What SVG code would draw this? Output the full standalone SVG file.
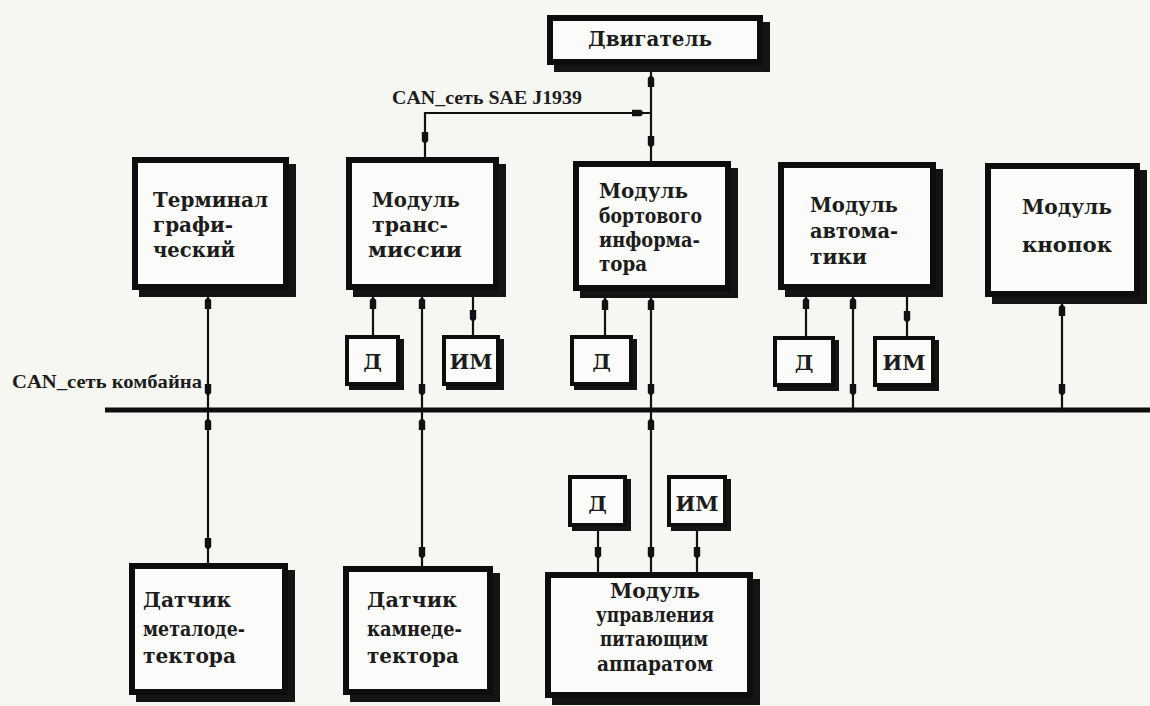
<svg xmlns="http://www.w3.org/2000/svg" width="1150" height="706" viewBox="0 0 1150 706">
<style>
.bg{fill:#f6f6f2}
.sh{fill:#141414}
.bx{fill:#fbfbf9;stroke:#0d0d0d;stroke-width:6}
.sbx{fill:#fbfbf9;stroke:#0d0d0d;stroke-width:4}
.t{font-family:"DejaVu Serif","Liberation Serif",serif;font-weight:bold;font-size:21px;fill:#1c1c1c}
.lb{font-family:"Liberation Serif","Times New Roman",serif;font-weight:bold;font-size:19px;fill:#1c1c1c}
.c{fill:none;stroke:#111;stroke-width:2.2}
.bus{fill:none;stroke:#0d0d0d;stroke-width:5}
.ah{fill:#111}
</style>
<defs>
<marker id="a8" markerUnits="userSpaceOnUse" markerWidth="20" markerHeight="8" refX="19" refY="4" orient="auto-start-reverse" overflow="visible"><path class="ah" d="M0,0.8 L9,0.8 L12,4 L9,7.2 L0,7.2 z"/></marker>
<marker id="a12" markerUnits="userSpaceOnUse" markerWidth="24" markerHeight="8" refX="23" refY="4" orient="auto-start-reverse" overflow="visible"><path class="ah" d="M0,0.8 L9,0.8 L12,4 L9,7.2 L0,7.2 z"/></marker>
<marker id="a14" markerUnits="userSpaceOnUse" markerWidth="26" markerHeight="8" refX="25" refY="4" orient="auto-start-reverse" overflow="visible"><path class="ah" d="M0,0.8 L9,0.8 L12,4 L9,7.2 L0,7.2 z"/></marker>
</defs>
<rect class="bg" x="0" y="0" width="1150" height="706"/>

<g id="connectors">
<path class="bus" d="M105,410 L1150,410"/>
<path class="c" d="M651,64 L651,161" marker-start="url(#a12)" marker-end="url(#a14)"/>
<path class="c" d="M425,157 L425,113 L651,113" marker-start="url(#a14)" marker-end="url(#a8)"/>
<path class="c" d="M208,290 L208,409" marker-start="url(#a8)" marker-end="url(#a14)"/>
<path class="c" d="M208,411 L208,563" marker-start="url(#a8)" marker-end="url(#a14)"/>
<path class="c" d="M373,335 L373,290" marker-end="url(#a8)"/>
<path class="c" d="M422,290 L422,409" marker-start="url(#a8)" marker-end="url(#a14)"/>
<path class="c" d="M422,411 L422,566" marker-start="url(#a8)" marker-end="url(#a8)"/>
<path class="c" d="M473,290 L473,335" marker-end="url(#a14)"/>
<path class="c" d="M605,335 L605,291" marker-end="url(#a8)"/>
<path class="c" d="M651,291 L651,409" marker-start="url(#a8)" marker-end="url(#a14)"/>
<path class="c" d="M651,411 L651,572" marker-start="url(#a8)" marker-end="url(#a14)"/>
<path class="c" d="M806,336 L806,290" marker-end="url(#a8)"/>
<path class="c" d="M853,290 L853,409" marker-start="url(#a8)" marker-end="url(#a14)"/>
<path class="c" d="M907,290 L907,336" marker-end="url(#a14)"/>
<path class="c" d="M1062,297 L1062,409" marker-start="url(#a8)" marker-end="url(#a14)"/>
<path class="c" d="M598,527 L598,572" marker-end="url(#a14)"/>
<path class="c" d="M697,527 L697,572" marker-end="url(#a14)"/>
</g>

<text class="lb" x="392" y="104" textLength="190" lengthAdjust="spacingAndGlyphs">CAN_сеть SAE J1939</text>
<text class="lb" x="12" y="388" textLength="190" lengthAdjust="spacingAndGlyphs">CAN_сеть комбайна</text>

<g id="dvigatel">
<rect class="sh" x="554" y="22" width="216" height="50"/>
<rect class="bx" x="550" y="18" width="210" height="44"/>
<text class="t" x="588" y="46" textLength="124" lengthAdjust="spacingAndGlyphs">Двигатель</text>
</g>

<g id="terminal">
<rect class="sh" x="139" y="164" width="157" height="133"/>
<rect class="bx" x="135" y="160" width="151" height="127"/>
<text class="t" x="153" y="207" textLength="115" lengthAdjust="spacingAndGlyphs">Терминал</text>
<text class="t" x="153" y="232" textLength="80" lengthAdjust="spacingAndGlyphs">графи-</text>
<text class="t" x="153" y="257" textLength="82" lengthAdjust="spacingAndGlyphs">ческий</text>
</g>

<g id="transmission">
<rect class="sh" x="353" y="164" width="153" height="133"/>
<rect class="bx" x="349" y="160" width="147" height="127"/>
<text class="t" x="372" y="207" textLength="88" lengthAdjust="spacingAndGlyphs">Модуль</text>
<text class="t" x="372" y="232" textLength="76" lengthAdjust="spacingAndGlyphs">транс-</text>
<text class="t" x="368" y="257" textLength="94" lengthAdjust="spacingAndGlyphs">миссии</text>
</g>

<g id="bortovoy">
<rect class="sh" x="580" y="168" width="158" height="130"/>
<rect class="bx" x="576" y="164" width="152" height="124"/>
<text class="t" x="599" y="198" textLength="89" lengthAdjust="spacingAndGlyphs">Модуль</text>
<text class="t" x="599" y="223" textLength="103" lengthAdjust="spacingAndGlyphs">бортового</text>
<text class="t" x="599" y="247" textLength="101" lengthAdjust="spacingAndGlyphs">информа-</text>
<text class="t" x="599" y="271" textLength="48" lengthAdjust="spacingAndGlyphs">тора</text>
</g>

<g id="avtomatika">
<rect class="sh" x="785" y="169" width="158" height="128"/>
<rect class="bx" x="781" y="165" width="152" height="122"/>
<text class="t" x="810" y="212" textLength="88" lengthAdjust="spacingAndGlyphs">Модуль</text>
<text class="t" x="810" y="238" textLength="88" lengthAdjust="spacingAndGlyphs">автома-</text>
<text class="t" x="810" y="264" textLength="57" lengthAdjust="spacingAndGlyphs">тики</text>
</g>

<g id="knopki">
<rect class="sh" x="992" y="170" width="155" height="134"/>
<rect class="bx" x="988" y="166" width="149" height="128"/>
<text class="t" x="1022" y="214" textLength="90" lengthAdjust="spacingAndGlyphs">Модуль</text>
<text class="t" x="1022" y="252" textLength="90" lengthAdjust="spacingAndGlyphs">кнопок</text>
</g>

<g id="d-trans">
<rect class="sh" x="349" y="339" width="55" height="51"/>
<rect class="sbx" x="347" y="337" width="51" height="47"/>
<text class="t" x="372.5" y="369" text-anchor="middle">Д</text>
</g>
<g id="im-trans">
<rect class="sh" x="446" y="339" width="58" height="51"/>
<rect class="sbx" x="444" y="337" width="54" height="47"/>
<text class="t" x="471" y="369" text-anchor="middle">ИМ</text>
</g>
<g id="d-bort">
<rect class="sh" x="574" y="339" width="63" height="51"/>
<rect class="sbx" x="572" y="337" width="59" height="47"/>
<text class="t" x="601.5" y="369" text-anchor="middle">Д</text>
</g>
<g id="d-avto">
<rect class="sh" x="777" y="340" width="62" height="51"/>
<rect class="sbx" x="775" y="338" width="58" height="47"/>
<text class="t" x="804" y="370" text-anchor="middle">Д</text>
</g>
<g id="im-avto">
<rect class="sh" x="877" y="340" width="62" height="51"/>
<rect class="sbx" x="875" y="338" width="58" height="47"/>
<text class="t" x="904" y="370" text-anchor="middle">ИМ</text>
</g>

<g id="d-uprav">
<rect class="sh" x="572" y="479" width="59" height="52"/>
<rect class="sbx" x="570" y="477" width="55" height="48"/>
<text class="t" x="597.5" y="511" text-anchor="middle">Д</text>
</g>
<g id="im-uprav">
<rect class="sh" x="671" y="479" width="60" height="52"/>
<rect class="sbx" x="669" y="477" width="56" height="48"/>
<text class="t" x="697" y="511" text-anchor="middle">ИМ</text>
</g>

<g id="metalodetektor">
<rect class="sh" x="136" y="570" width="159" height="132"/>
<rect class="bx" x="132" y="566" width="153" height="126"/>
<text class="t" x="143" y="607" textLength="88" lengthAdjust="spacingAndGlyphs">Датчик</text>
<text class="t" x="143" y="636" textLength="102" lengthAdjust="spacingAndGlyphs">металоде-</text>
<text class="t" x="143" y="663" textLength="93" lengthAdjust="spacingAndGlyphs">тектора</text>
</g>

<g id="kamnedetektor">
<rect class="sh" x="350" y="573" width="150" height="129"/>
<rect class="bx" x="346" y="569" width="144" height="123"/>
<text class="t" x="367" y="607" textLength="90" lengthAdjust="spacingAndGlyphs">Датчик</text>
<text class="t" x="367" y="636" textLength="95" lengthAdjust="spacingAndGlyphs">камнеде-</text>
<text class="t" x="367" y="663" textLength="92" lengthAdjust="spacingAndGlyphs">тектора</text>
</g>

<g id="upravlenie">
<rect class="sh" x="552" y="579" width="208" height="126"/>
<rect class="bx" x="548" y="575" width="202" height="120"/>
<text class="t" x="610" y="598" textLength="90" lengthAdjust="spacingAndGlyphs">Модуль</text>
<text class="t" x="596" y="622" textLength="118" lengthAdjust="spacingAndGlyphs">управления</text>
<text class="t" x="600" y="646" textLength="108" lengthAdjust="spacingAndGlyphs">питающим</text>
<text class="t" x="597" y="671" textLength="116" lengthAdjust="spacingAndGlyphs">аппаратом</text>
</g>
</svg>
